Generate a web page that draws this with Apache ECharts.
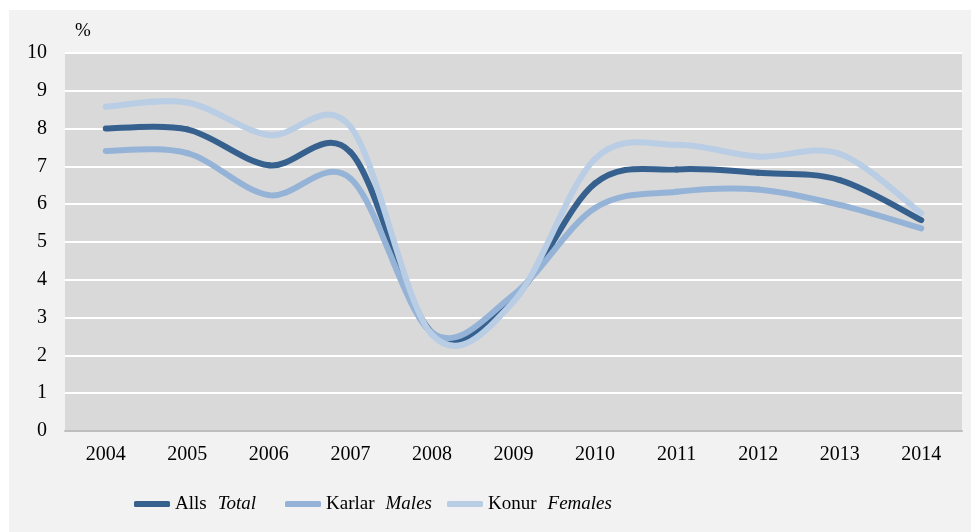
<!DOCTYPE html>
<html>
<head>
<meta charset="utf-8">
<script src="https://cdn.jsdelivr.net/npm/echarts@6/dist/echarts.min.js"></script>
<style>
  html, body { margin: 0; padding: 0; background: #ffffff; }
  #chart { position: absolute; left: 9px; top: 10px; width: 962px; height: 522px; }
</style>
</head>
<body>
<div id="chart"></div>
<script>
// years on the x axis
const years = ['2004', '2005', '2006', '2007', '2008', '2009', '2010', '2011', '2012', '2013', '2014'];
// values, %
const total = [8.0, 7.98, 7.03, 7.38, 2.6, 3.5, 6.55, 6.92, 6.83, 6.64, 5.58];
const males = [7.41, 7.35, 6.24, 6.68, 2.6, 3.6, 5.9, 6.33, 6.39, 5.98, 5.36];
const females = [8.58, 8.69, 7.83, 8.05, 2.55, 3.42, 7.2, 7.57, 7.26, 7.33, 5.76];

const names = ['Alls', 'Karlar', 'Konur'];
const englishNames = { Alls: 'Total', Karlar: 'Males', Konur: 'Females' };
const colors = ['#36618f', '#95b3d7', '#b9cde5'];
const legendLeft = [120, 271, 433];

const font = 'Liberation Serif';
const myChart = echarts.init(document.getElementById('chart'));

// smoothed line like the spreadsheet one: a bezier per segment,
// control points 1/6 of the neighbour difference, points from api.coord
function lineSeries(name, values, color) {
  const n = values.length;
  return {
    name: name,
    type: 'custom',
    data: values.map(function (v, i) { return [i, v]; }),
    encode: { x: 0, y: 1 },
    itemStyle: { color: color },
    renderItem: function (params, api) {
      const i = params.dataIndex;
      if (i >= n - 1) return null;
      const pt = function (k) { return api.coord([k, values[k]]); };
      const p0 = pt(Math.max(i - 1, 0));
      const p1 = pt(i);
      const p2 = pt(i + 1);
      const p3 = pt(Math.min(i + 2, n - 1));
      return {
        type: 'bezierCurve',
        shape: {
          x1: p1[0], y1: p1[1],
          cpx1: p1[0] + (p2[0] - p0[0]) / 6, cpy1: p1[1] + (p2[1] - p0[1]) / 6,
          cpx2: p2[0] - (p3[0] - p1[0]) / 6, cpy2: p2[1] - (p3[1] - p1[1]) / 6,
          x2: p2[0], y2: p2[1]
        },
        style: { stroke: color, lineWidth: 6, fill: null, lineCap: 'round' }
      };
    }
  };
}

// one legend per series so each sits where it does in the original
function legendItem(i) {
  return {
    bottom: 12,
    left: legendLeft[i],
    icon: 'roundRect',
    itemWidth: 36,
    itemHeight: 6,
    itemGap: 0,
    data: [names[i]],
    textStyle: {
      fontFamily: font, fontSize: 19, color: '#000', lineHeight: 22,
      rich: {
        a: { fontFamily: font, fontSize: 19, color: '#000', lineHeight: 22, verticalAlign: 'middle', padding: [0, 11, 0, 0] },
        b: { fontFamily: font, fontSize: 19, color: '#000', lineHeight: 22, verticalAlign: 'middle', fontStyle: 'italic' }
      }
    },
    formatter: function (name) {
      return '{a|' + name + '}{b|' + englishNames[name] + '}';
    }
  };
}

const option = {
  backgroundColor: '#f2f2f2',
  animation: false,
  color: colors,
  grid: {
    left: 56, top: 43, right: 9, bottom: 101,
    show: true, backgroundColor: '#d9d9d9', borderWidth: 0
  },
  legend: [legendItem(0), legendItem(1), legendItem(2)],
  xAxis: {
    type: 'category',
    data: years,
    boundaryGap: true,
    axisLine: { lineStyle: { color: '#bfbfbf', width: 2 } },
    axisTick: { show: false },
    axisLabel: { fontFamily: font, fontSize: 20, color: '#000', margin: 14 }
  },
  yAxis: {
    type: 'value',
    min: 0, max: 10, interval: 1,
    name: '%',
    nameGap: 12,
    nameTextStyle: { fontFamily: font, fontSize: 19, color: '#000', align: 'left', padding: [0, 0, 0, 10] },
    axisLine: { show: false },
    axisTick: { show: false },
    splitLine: { lineStyle: { color: '#ffffff', width: 2 } },
    axisLabel: { fontFamily: font, fontSize: 20, color: '#000', margin: 18 }
  },
  series: [
    lineSeries(names[0], total, colors[0]),
    lineSeries(names[1], males, colors[1]),
    lineSeries(names[2], females, colors[2])
  ]
};

myChart.setOption(option);
</script>
</body>
</html>
